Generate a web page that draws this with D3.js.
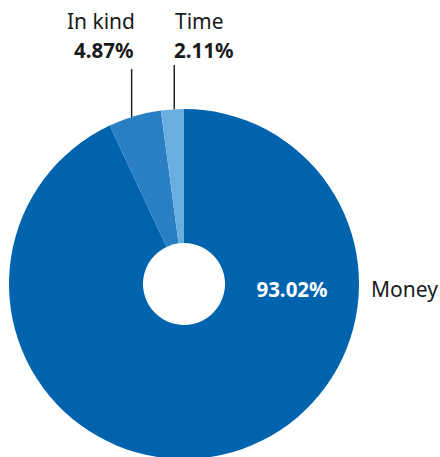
<!DOCTYPE html>
<html>
<head>
<meta charset="utf-8">
<script src="https://cdn.jsdelivr.net/npm/d3@7"></script>
<style>
  html, body { margin: 0; padding: 0; background: #fff; }
  svg { display: block; }
  text { font-family: "Noto Sans", "Open Sans", sans-serif; }
</style>
</head>
<body>
<svg id="chart" width="440" height="457"></svg>
<script>
// Share of giving by type (percent)
const categories = ["Money", "In kind", "Time"];
const shares = [93.02, 4.87, 2.11];
const colors = ["#0063ae", "#2a7fc4", "#6aade0"];

const width = 440, height = 457;
const cx = 184, cy = 284;
const outerR = 175, innerR = 41;
const nameSize = 21, valueSize = 20.5;

const svg = d3.select("#chart");
const g = svg.append("g").attr("transform", `translate(${cx},${cy})`);

const data = categories.map((c, i) => ({ name: c, value: shares[i], color: colors[i] }));

const pie = d3.pie().value(d => d.value).sort(null);
const arc = d3.arc().innerRadius(innerR).outerRadius(outerR);
const arcs = pie(data);

g.selectAll("path.slice")
  .data(arcs)
  .join("path")
  .attr("class", "slice")
  .attr("d", arc)
  .attr("fill", d => d.data.color);

const fmt = v => d3.format(".2f")(v) + "%";

// Large slice: value inside the ring, name to the right of the ring
const big = arcs[0];
g.append("text")
  .attr("x", (innerR + outerR) / 2)
  .attr("y", 13)
  .attr("text-anchor", "middle")
  .attr("fill", "#fff")
  .attr("font-size", valueSize)
  .attr("font-weight", 700)
  .text(fmt(big.data.value));

g.append("text")
  .attr("x", outerR + 12)
  .attr("y", 13)
  .attr("fill", "#1a1a1a")
  .attr("font-size", nameSize)
  .text(big.data.name);

// Small slices: leader line straight up from the rim, label above
const small = [
  { arc: arcs[1], frac: 0.44, lineTop: 69, anchor: "end", nameX: 135 - cx, valueX: 133.5 - cx },
  { arc: arcs[2], frac: 0.58, lineTop: 65, anchor: "start", nameX: 175 - cx, valueX: 174 - cx }
];

small.forEach(s => {
  const a = s.arc.startAngle + (s.arc.endAngle - s.arc.startAngle) * s.frac;
  const x = outerR * Math.sin(a);
  const y = -outerR * Math.cos(a);
  g.append("line")
    .attr("x1", x).attr("x2", x)
    .attr("y1", y).attr("y2", s.lineTop - cy)
    .attr("stroke", "#222")
    .attr("stroke-width", 1.5);
  g.append("text")
    .attr("x", s.nameX)
    .attr("y", 29 - cy)
    .attr("text-anchor", s.anchor)
    .attr("fill", "#1a1a1a")
    .attr("font-size", nameSize)
    .text(s.arc.data.name);
  g.append("text")
    .attr("x", s.valueX)
    .attr("y", 58 - cy)
    .attr("text-anchor", s.anchor)
    .attr("fill", "#1a1a1a")
    .attr("font-size", valueSize)
    .attr("font-weight", 700)
    .text(fmt(s.arc.data.value));
});
</script>
</body>
</html>
